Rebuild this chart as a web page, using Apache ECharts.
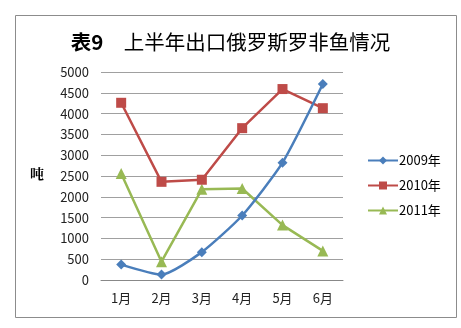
<!DOCTYPE html>
<html>
<head>
<meta charset="utf-8">
<script src="https://cdn.jsdelivr.net/npm/echarts@6/dist/echarts.min.js"></script>
<style>
  html, body { margin: 0; padding: 0; background: #fff; }
  #chart { width: 461px; height: 328px; }
</style>
</head>
<body>
<div id="chart"></div>
<script>
// Monthly exports of tilapia to Russia, first half of the year (tonnes)
const months = ['1月', '2月', '3月', '4月', '5月', '6月'];
const yearNames = ['2009年', '2010年', '2011年'];
const values2009 = [370, 130, 670, 1550, 2820, 4710];
const values2010 = [4260, 2360, 2410, 3650, 4590, 4130];
const values2011 = [2560, 440, 2180, 2200, 1320, 700];
const yTicks = [0, 500, 1000, 1500, 2000, 2500, 3000, 3500, 4000, 4500, 5000];

const colors = ['#4a7ebb', '#be4b48', '#98b954'];
const font = '"Noto Sans CJK SC", "Noto Sans", sans-serif';

const chart = echarts.init(document.getElementById('chart'), null, { renderer: 'canvas' });

chart.setOption({
  animation: false,
  backgroundColor: '#fff',
  color: colors,
  title: {
    text: '{b|表9}　上半年出口俄罗斯罗非鱼情况',
    left: 'center',
    top: 27,
    textStyle: {
      fontFamily: font,
      fontSize: 20.5,
      fontWeight: 'normal',
      color: '#000',
      rich: {
        b: { fontFamily: font, fontSize: 20.5, fontWeight: 'bold', color: '#000' }
      }
    }
  },
  graphic: [
    {
      type: 'rect',
      shape: { x: 15.5, y: 15.5, width: 441, height: 302 },
      style: { fill: 'none', stroke: '#8c8c8c', lineWidth: 1 },
      silent: true
    },
    {
      type: 'text',
      left: 30,
      top: 167,
      style: { text: '吨', font: 'bold 14px "Noto Serif CJK SC", "Noto Sans CJK SC", serif', fill: '#000' }
    }
  ],
  legend: {
    orient: 'vertical',
    left: 362,
    top: 149,
    itemGap: 12,
    itemWidth: 30,
    itemHeight: 10,
    data: yearNames,
    textStyle: { fontFamily: font, fontSize: 13, color: '#000', padding: [0, 0, 0, -4] }
  },
  grid: { left: 101, right: 118, top: 72, bottom: 48 },
  xAxis: {
    type: 'category',
    data: months,
    boundaryGap: true,
    axisLine: { lineStyle: { color: '#888', width: 1 } },
    axisTick: { show: false },
    axisLabel: { fontFamily: font, fontSize: 13, color: '#222', margin: 12 }
  },
  yAxis: {
    type: 'value',
    min: yTicks[0],
    max: yTicks[yTicks.length - 1],
    interval: yTicks[1] - yTicks[0],
    axisLine: { show: false },
    axisTick: { show: false },
    axisLabel: {
      fontFamily: font, fontSize: 13, color: '#222', margin: 12,
      formatter: (v) => String(v)
    },
    splitLine: { lineStyle: { color: '#a0a0a0', width: 1 } }
  },
  series: [
    {
      name: yearNames[0],
      type: 'line',
      data: values2009,
      smooth: 0.2,
      symbol: 'diamond',
      symbolSize: 10,
      lineStyle: { width: 2.5 },
      z: 3
    },
    {
      name: yearNames[1],
      type: 'line',
      data: values2010,
      symbol: 'rect',
      symbolSize: 10,
      lineStyle: { width: 2.5 },
      z: 2
    },
    {
      name: yearNames[2],
      type: 'line',
      data: values2011,
      symbol: 'triangle',
      symbolSize: 11,
      lineStyle: { width: 2.5 },
      z: 1
    }
  ]
});
</script>
</body>
</html>
